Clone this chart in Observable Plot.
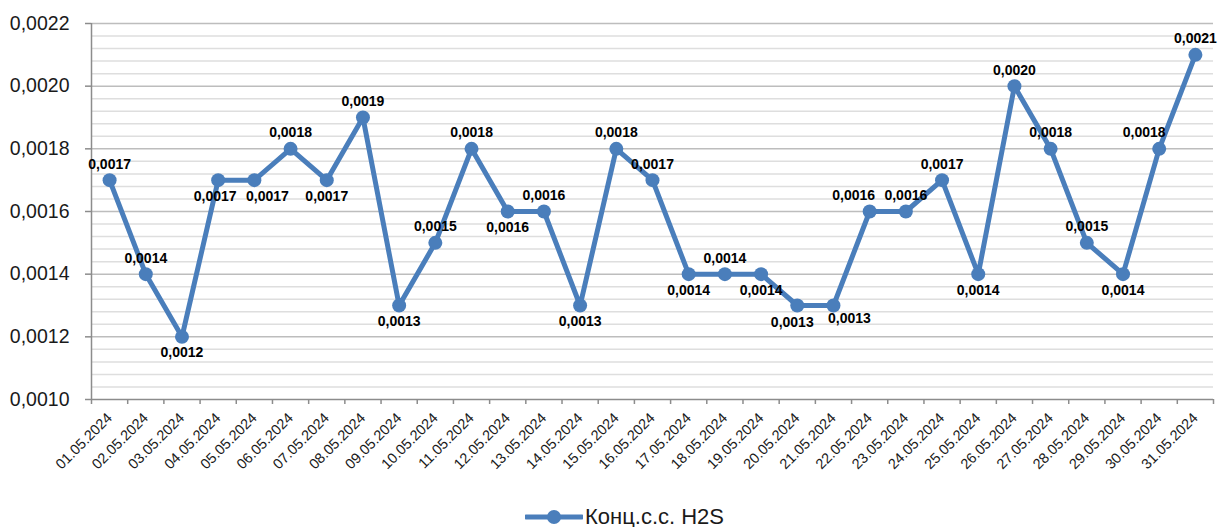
<!DOCTYPE html>
<html>
<head>
<meta charset="utf-8">
<script src="https://cdn.jsdelivr.net/npm/d3@7"></script>
<script src="https://cdn.jsdelivr.net/npm/@observablehq/plot@0.6"></script>
<style>
  html, body { margin: 0; padding: 0; background: #fff; }
  #chart svg { display: block; }
  #legend { height: 37px; display: flex; align-items: center; justify-content: center; padding-left: 30px; box-sizing: border-box; font-family: "Liberation Sans", Arial, sans-serif; font-size: 22px; color: #1a1a1a; padding-top: 17px; }
  #legend svg { margin-right: 2px; }
</style>
</head>
<body>
<div id="chart"></div>
<div id="legend"></div>
<script>
const dates = ["01.05.2024","02.05.2024","03.05.2024","04.05.2024","05.05.2024","06.05.2024","07.05.2024","08.05.2024","09.05.2024","10.05.2024","11.05.2024","12.05.2024","13.05.2024","14.05.2024","15.05.2024","16.05.2024","17.05.2024","18.05.2024","19.05.2024","20.05.2024","21.05.2024","22.05.2024","23.05.2024","24.05.2024","25.05.2024","26.05.2024","27.05.2024","28.05.2024","29.05.2024","30.05.2024","31.05.2024"];
const values = [0.0017,0.0014,0.0012,0.0017,0.0017,0.0018,0.0017,0.0019,0.0013,0.0015,0.0018,0.0016,0.0016,0.0013,0.0018,0.0017,0.0014,0.0014,0.0014,0.0013,0.0013,0.0016,0.0016,0.0017,0.0014,0.0020,0.0018,0.0015,0.0014,0.0018,0.0021];
const labelPos = ["above","above","below","below","below","above","below","above","below","above","above","below","above","below","above","above","below","above","below","below","below","above","above","above","below","above","above","above","below","above","above"];
const majorTicks = [0.0010,0.0012,0.0014,0.0016,0.0018,0.0020,0.0022];
const minorTicks = [0.00104,0.00108,0.00112,0.00116,0.00124,0.00128,0.00132,0.00136,0.00144,0.00148,0.00152,0.00156,0.00164,0.00168,0.00172,0.00176,0.00184,0.00188,0.00192,0.00196,0.00204,0.00208,0.00212,0.00216];
const seriesName = "Конц.с.с. H2S";

// label nudges (style, to avoid collisions like the original)
const nudgeX = {"04.05.2024": -3, "05.05.2024": 13, "20.05.2024": -5, "21.05.2024": 16, "22.05.2024": -16, "30.05.2024": -15};
const nudgeY = {"20.05.2024": 1, "21.05.2024": -3};

const color = "#4a7ebb";
const fmt = v => d3.format(".4f")(v).replace(".", ",");
const data = dates.map((d, i) => ({i, date: d, value: values[i], pos: labelPos[i]}));
const idx = dates.map((d, i) => i);
const boundaries = [...idx.map(i => i - 0.5), dates.length - 0.5];

const labelMarks = data.map(d => Plot.text([d], {
  x: "i", y: "value", text: d => fmt(d.value),
  dx: nudgeX[d.date] || 0,
  dy: (d.pos === "above" ? -16 : 16) + (nudgeY[d.date] || 0),
  fontSize: 14, fontWeight: "bold", fill: "#000"
}));

const chart = Plot.plot({
  width: 1219,
  height: 490,
  marginLeft: 91,
  marginRight: 6,
  marginTop: 23,
  marginBottom: 91,
  style: {fontFamily: "Liberation Sans, Arial, sans-serif", color: "#1a1a1a", background: "#fff"},
  x: {type: "linear", domain: [-0.5, dates.length - 0.5]},
  y: {domain: [0.0010, 0.0022]},
  marks: [
    Plot.ruleY(minorTicks, {stroke: "#dedede", strokeWidth: 1.5}),
    Plot.ruleY(majorTicks.slice(1), {stroke: "#bdbdbd", strokeWidth: 1.5}),
    Plot.axisY({ticks: majorTicks, tickFormat: fmt, tickSize: 6, tickPadding: 16, stroke: "#8c8c8c", fontSize: 19.5, label: null, strokeWidth: 1.5}),
    Plot.ruleX([-0.5], {stroke: "#8c8c8c", strokeWidth: 1.5}),
    Plot.ruleY([0.0010], {stroke: "#8c8c8c", strokeWidth: 1.5}),
    Plot.axisX({ticks: boundaries, tickSize: 5, tickFormat: () => "", stroke: "#8c8c8c", label: null, strokeWidth: 1.5}),
    Plot.axisX({ticks: idx, tickSize: 0, tickFormat: i => dates[i], tickRotate: -45, tickPadding: 16, fontSize: 14.5, label: null}),
    Plot.line(data, {x: "i", y: "value", stroke: color, strokeWidth: 5}),
    Plot.dot(data, {x: "i", y: "value", r: 7, fill: color, stroke: null}),
    ...labelMarks
  ]
});
document.getElementById("chart").appendChild(chart);

const legend = document.getElementById("legend");
legend.innerHTML = `<svg width="58" height="16"><line x1="1" y1="8" x2="57" y2="8" stroke="${color}" stroke-width="5" stroke-linecap="round"/><circle cx="29" cy="8" r="7" fill="${color}"/></svg><span>${seriesName}</span>`;
</script>
</body>
</html>
